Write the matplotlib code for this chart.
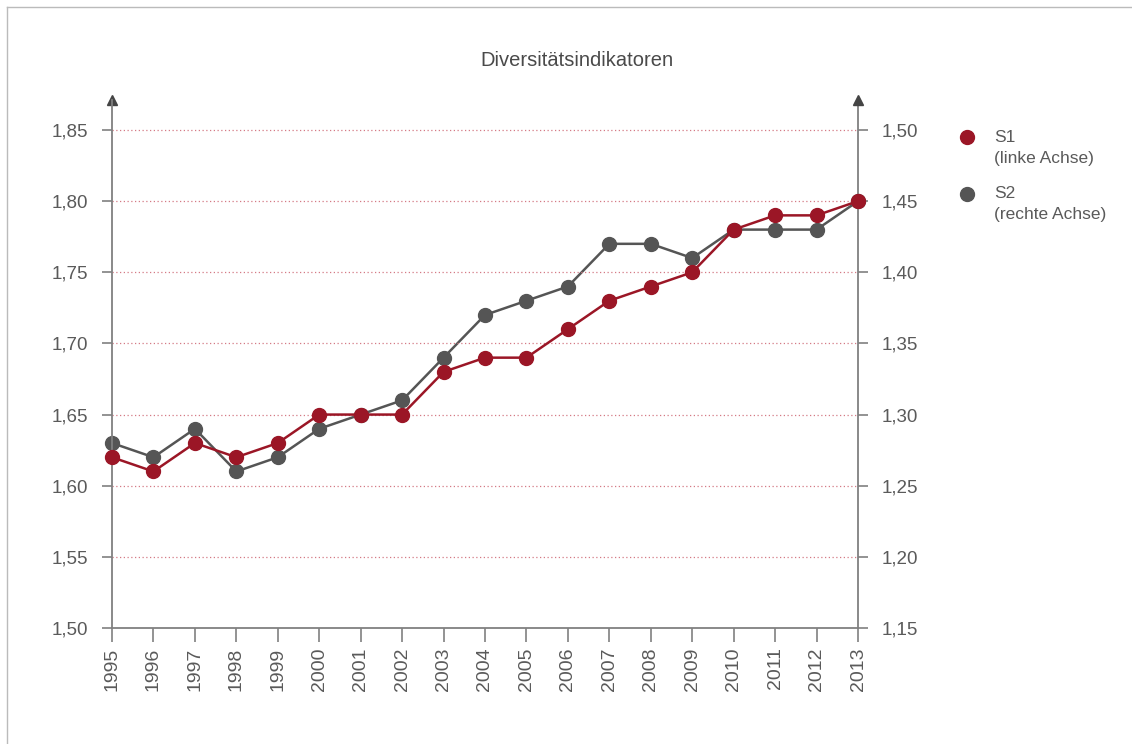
import matplotlib
matplotlib.use("Agg")
import matplotlib.pyplot as plt
from matplotlib.lines import Line2D

plt.rcParams['font.family'] = ['Liberation Sans', 'DejaVu Sans']

years = list(range(1995, 2014))
s1 = [1.62, 1.61, 1.63, 1.62, 1.63, 1.65, 1.65, 1.65, 1.68, 1.69, 1.69, 1.71,
      1.73, 1.74, 1.75, 1.78, 1.79, 1.79, 1.80]
s2 = [1.28, 1.27, 1.29, 1.26, 1.27, 1.29, 1.30, 1.31, 1.34, 1.37, 1.38, 1.39,
      1.42, 1.42, 1.41, 1.43, 1.43, 1.43, 1.45]
left_ticks = [1.50, 1.55, 1.60, 1.65, 1.70, 1.75, 1.80, 1.85]
right_ticks = [1.15, 1.20, 1.25, 1.30, 1.35, 1.40, 1.45, 1.50]
title = "Diversitätsindikatoren"
labels = [("S1", "(linke Achse)"), ("S2", "(rechte Achse)")]

RED = "#9b1626"
GRAY = "#555555"
AX = "#808080"
TXT = "#5a5a5a"

W, H = 1132, 744
fig = plt.figure(figsize=(W / 100, H / 100), dpi=100)
L, R, B, T = 112, 858, 628, 100
ax = fig.add_axes([L / W, 1 - B / H, (R - L) / W, (B - T) / H])
ax2 = ax.twinx()

px = (B - 130) / 7.0  # px per 0.05
top_extra = (130 - T) / px * 0.05
ax.set_ylim(1.50, 1.85 + top_extra)
ax2.set_ylim(1.15, 1.50 + top_extra)
ax.set_xlim(1995, 2013)

for a in (ax, ax2):
    for s in a.spines.values():
        s.set_visible(False)
    a.patch.set_visible(False)

ax.spines['left'].set_visible(True)
ax.spines['left'].set_color(AX)
ax.spines['left'].set_linewidth(1.3)
ax.spines['bottom'].set_visible(True)
ax.spines['bottom'].set_color(AX)
ax.spines['bottom'].set_linewidth(1.3)
ax2.spines['right'].set_visible(True)
ax2.spines['right'].set_color(AX)
ax2.spines['right'].set_linewidth(1.3)

for xa in (0, 1):
    ax.plot([xa], [1.0], marker='^', color="#444444", markersize=7.5,
            transform=ax.transAxes, clip_on=False)

for v in left_ticks[1:]:
    ax.axhline(v, color="#d47a85", linestyle=(0, (1, 2)), linewidth=0.9, zorder=0)

ax.set_yticks(left_ticks)
ax.set_yticklabels([f"{v:.2f}".replace('.', ',') for v in left_ticks])
ax2.set_yticks(right_ticks)
ax2.set_yticklabels([f"{v:.2f}".replace('.', ',') for v in right_ticks])
ax.set_xticks(years)
ax.set_xticklabels([str(y) for y in years], rotation=90)

ax.tick_params(axis='y', length=7, width=1.2, color=AX, labelsize=13.5,
               labelcolor=TXT, pad=10)
ax2.tick_params(axis='y', length=7, width=1.2, color=AX, labelsize=13.5,
                labelcolor=TXT, pad=10)
ax.tick_params(axis='x', length=10, width=1.2, color=AX, labelsize=14,
               labelcolor=TXT, pad=4)

ax.plot(years, s1, color=RED, linewidth=1.8, marker='o', markersize=10,
        clip_on=False, zorder=3)
ax2.plot(years, s2, color=GRAY, linewidth=1.8, marker='o', markersize=10,
         clip_on=False, zorder=2)
ax.set_zorder(ax2.get_zorder() + 1)

fig.text(577 / W, 1 - 61 / H, title, ha='center', va='center',
         fontsize=14.5, color="#4a4a4a")

for i, ((l1, l2), col) in enumerate(zip(labels, [RED, GRAY])):
    ym = 137 + i * 57
    fig.add_artist(Line2D([967 / W], [1 - ym / H], marker='o', markersize=10,
                          color=col, linestyle='none', transform=fig.transFigure))
    fig.text(994 / W, 1 - ym / H, l1, ha='left', va='center',
             fontsize=12.5, color=TXT)
    fig.text(994 / W, 1 - (ym + 21) / H, l2, ha='left', va='center',
             fontsize=12.5, color=TXT)

fig.add_artist(Line2D([7 / W, 1], [1 - 7 / H, 1 - 7 / H], color="#bbbbbb",
                      linewidth=1, transform=fig.transFigure))
fig.add_artist(Line2D([7 / W, 7 / W], [0, 1 - 7 / H], color="#bbbbbb",
                      linewidth=1, transform=fig.transFigure))

fig.savefig("out.png", dpi=100)
